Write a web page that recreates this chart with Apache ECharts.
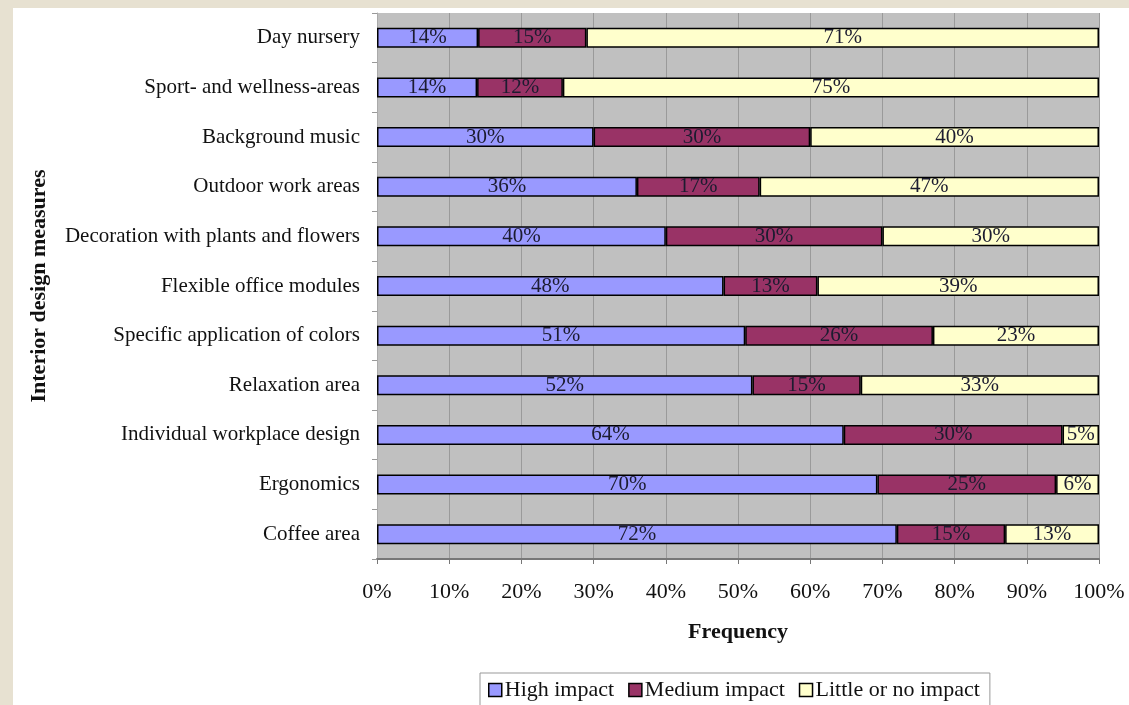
<!DOCTYPE html>
<html>
<head>
<meta charset="utf-8">
<script src="https://cdn.jsdelivr.net/npm/echarts@6/dist/echarts.min.js"></script>
<style>
  html, body { margin: 0; padding: 0; background: #e7e1d1; }
  #chart { position: absolute; left: 13px; top: 8px; width: 1116px; height: 697px; background: #fff; }
</style>
</head>
<body>
<div id="chart"></div>
<script>
// measures, top to bottom
const categories = [
  'Day nursery',
  'Sport- and wellness-areas',
  'Background music',
  'Outdoor work areas',
  'Decoration with plants and flowers',
  'Flexible office modules',
  'Specific application of colors',
  'Relaxation area',
  'Individual workplace design',
  'Ergonomics',
  'Coffee area'
]
// printed percentages
const highImpact = [14, 14, 30, 36, 40, 48, 51, 52, 64, 70, 72]
const mediumImpact = [15, 12, 30, 17, 30, 13, 26, 15, 30, 25, 15]
const littleImpact = [71, 75, 40, 47, 30, 39, 23, 33, 5, 6, 13]
const xTicks = [0, 10, 20, 30, 40, 50, 60, 70, 80, 90, 100]

const serif = '"Liberation Serif", "DejaVu Serif", serif'

// 100% stacked: scale each row to its own total
function share(arr, i) {
  var total = highImpact[i] + mediumImpact[i] + littleImpact[i]
  return arr[i] / total * 100
}

function makeSeries(name, arr, color) {
  return {
    name: name,
    type: 'bar',
    stack: 'all',
    barWidth: 20,
    data: arr.map((v, i) => share(arr, i)),
    itemStyle: { color: color, borderColor: '#000', borderWidth: 1.5 },
    label: {
      show: true,
      position: 'inside',
      fontFamily: serif,
      fontSize: 21,
      color: '#1c1c30',
      formatter: p => arr[p.dataIndex] + '%'
    }
  }
}

var chart = echarts.init(document.getElementById('chart'))
chart.setOption({
  animation: false,
  textStyle: { fontFamily: serif },
  grid: { left: 364, right: 30, top: 5, bottom: 146, show: true, backgroundColor: '#c0c0c0', borderWidth: 0 },
  legend: {
    bottom: -10,
    left: 467,
    icon: 'rect',
    itemWidth: 13,
    itemHeight: 13,
    itemGap: 14,
    borderColor: '#999',
    borderWidth: 1,
    padding: [6, 10, 14, 8],
    itemStyle: { borderColor: '#000', borderWidth: 1.5 },
    textStyle: { fontFamily: serif, fontSize: 22, color: '#111', padding: [0, 0, 0, -2] },
    data: ['High impact', 'Medium impact', 'Little or no impact']
  },
  xAxis: {
    type: 'value',
    min: xTicks[0],
    max: xTicks[xTicks.length - 1],
    interval: 10,
    name: 'Frequency',
    nameLocation: 'middle',
    nameGap: 62,
    nameTextStyle: { fontFamily: serif, fontSize: 22, fontWeight: 'bold', color: '#111' },
    axisLine: { show: true, lineStyle: { color: '#777', width: 2 } },
    axisTick: { show: true, length: 5, lineStyle: { color: '#777' } },
    axisLabel: { formatter: '{value}%', fontFamily: serif, fontSize: 22, color: '#111', margin: 22 },
    splitLine: { show: true, lineStyle: { color: '#9a9a9a', width: 1 } }
  },
  yAxis: {
    type: 'category',
    inverse: true,
    data: categories,
    name: 'Interior design measures',
    nameLocation: 'middle',
    nameGap: 327,
    nameRotate: 90,
    nameTextStyle: { fontFamily: serif, fontSize: 22, fontWeight: 'bold', color: '#111' },
    axisLine: { show: true, lineStyle: { color: '#aaa' } },
    axisTick: { show: true, length: 5, lineStyle: { color: '#999' } },
    axisLabel: { fontFamily: serif, fontSize: 21, color: '#111', margin: 17 }
  },
  series: [
    makeSeries('High impact', highImpact, '#9999ff'),
    makeSeries('Medium impact', mediumImpact, '#993366'),
    makeSeries('Little or no impact', littleImpact, '#ffffcc')
  ]
})
</script>
</body>
</html>
